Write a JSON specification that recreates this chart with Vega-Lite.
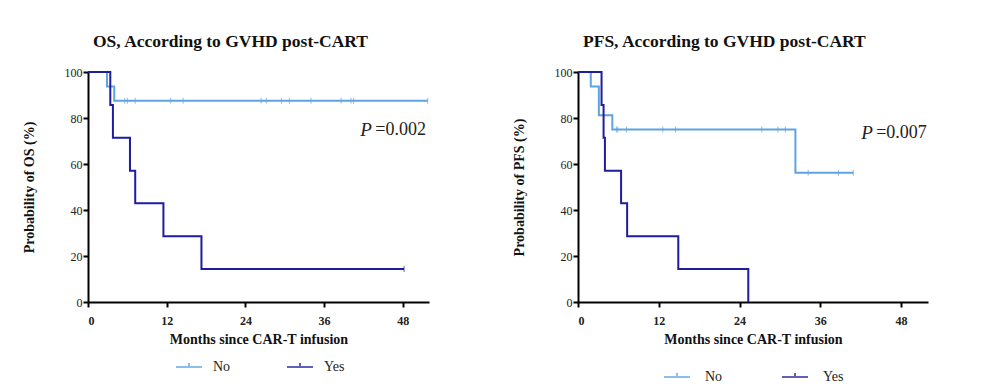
{
  "$schema": "https://vega.github.io/schema/vega-lite/v6.json",
  "background": "white",
  "padding": {"left": 22, "top": 32, "right": 5, "bottom": 5},
  "spacing": 80,
  "config": {
    "view": {"stroke": null},
    "font": "Times New Roman, Liberation Serif, serif",
    "axis": {
      "grid": false,
      "domainColor": "black",
      "domainWidth": 2,
      "tickColor": "black",
      "tickWidth": 2,
      "tickSize": 5,
      "labelColor": "#222",
      "labelFont": "Times New Roman, Liberation Serif, serif",
      "labelFontSize": 12,
      "titleFont": "Times New Roman, Liberation Serif, serif",
      "titleFontSize": 14,
      "titleFontWeight": "bold",
      "titleColor": "#111"
    },
    "title": {"font": "Times New Roman, Liberation Serif, serif", "fontSize": 17.5, "fontWeight": "bold", "color": "#111", "anchor": "start", "frame": "group", "dx": 5, "offset": 16},
    "legend": {"labelFont": "Times New Roman, Liberation Serif, serif", "labelFontSize": 14, "labelColor": "#222"},
    "text": {"font": "Times New Roman, Liberation Serif, serif"}
  },
  "datasets": {
    "os_curve": [
      {"group": "No", "time": 0, "surv": 100},
      {"group": "No", "time": 2.9, "surv": 93.75},
      {"group": "No", "time": 4.0, "surv": 87.5},
      {"group": "No", "time": 51.8, "surv": 87.5},
      {"group": "Yes", "time": 0, "surv": 100},
      {"group": "Yes", "time": 3.4, "surv": 85.7},
      {"group": "Yes", "time": 3.8, "surv": 71.4},
      {"group": "Yes", "time": 6.4, "surv": 57.1},
      {"group": "Yes", "time": 7.2, "surv": 42.9},
      {"group": "Yes", "time": 11.5, "surv": 28.6},
      {"group": "Yes", "time": 17.3, "surv": 14.3},
      {"group": "Yes", "time": 48.2, "surv": 14.3}
    ],
    "os_censor": [
      {"group": "No", "time": 5.6, "surv": 87.5},
      {"group": "No", "time": 6.0, "surv": 87.5},
      {"group": "No", "time": 7.2, "surv": 87.5},
      {"group": "No", "time": 12.6, "surv": 87.5},
      {"group": "No", "time": 14.5, "surv": 87.5},
      {"group": "No", "time": 26.4, "surv": 87.5},
      {"group": "No", "time": 27.2, "surv": 87.5},
      {"group": "No", "time": 29.5, "surv": 87.5},
      {"group": "No", "time": 30.7, "surv": 87.5},
      {"group": "No", "time": 34.0, "surv": 87.5},
      {"group": "No", "time": 38.6, "surv": 87.5},
      {"group": "No", "time": 40.1, "surv": 87.5},
      {"group": "No", "time": 40.5, "surv": 87.5},
      {"group": "No", "time": 51.8, "surv": 87.5},
      {"group": "Yes", "time": 48.2, "surv": 14.3}
    ],
    "pfs_curve": [
      {"group": "No", "time": 0, "surv": 100},
      {"group": "No", "time": 1.9, "surv": 93.75},
      {"group": "No", "time": 3.1, "surv": 81.25},
      {"group": "No", "time": 5.1, "surv": 75},
      {"group": "No", "time": 32.3, "surv": 56.25},
      {"group": "No", "time": 40.9, "surv": 56.25},
      {"group": "Yes", "time": 0, "surv": 100},
      {"group": "Yes", "time": 3.5, "surv": 85.7},
      {"group": "Yes", "time": 3.8, "surv": 71.4},
      {"group": "Yes", "time": 4.0, "surv": 57.1},
      {"group": "Yes", "time": 6.4, "surv": 42.9},
      {"group": "Yes", "time": 7.3, "surv": 28.6},
      {"group": "Yes", "time": 14.9, "surv": 14.3},
      {"group": "Yes", "time": 25.3, "surv": 0}
    ],
    "pfs_censor": [
      {"group": "No", "time": 5.7, "surv": 75},
      {"group": "No", "time": 5.9, "surv": 75},
      {"group": "No", "time": 7.2, "surv": 75},
      {"group": "No", "time": 12.6, "surv": 75},
      {"group": "No", "time": 14.5, "surv": 75},
      {"group": "No", "time": 27.3, "surv": 75},
      {"group": "No", "time": 29.7, "surv": 75},
      {"group": "No", "time": 30.8, "surv": 75},
      {"group": "No", "time": 34.2, "surv": 56.25},
      {"group": "No", "time": 38.7, "surv": 56.25},
      {"group": "No", "time": 40.9, "surv": 56.25}
    ],
    "os_p": [{"p": "=0.002"}],
    "pfs_p": [{"p": "=0.007"}]
  },
  "resolve": {"scale": {"color": "independent"}, "legend": {"color": "independent"}},
  "hconcat": [
    {
      "title": {"text": "OS, According to GVHD post-CART"},
      "width": 341,
      "height": 230,
      "layer": [
        {
          "data": {"name": "os_curve"},
          "mark": {"type": "line", "interpolate": "step-after", "strokeWidth": 2},
          "encoding": {
            "x": {"field": "time", "type": "quantitative", "scale": {"domain": [0, 52], "nice": false},
                  "axis": {"values": [0, 12, 24, 36, 48], "title": "Months since CAR-T infusion", "labelFontWeight": "bold", "labelPadding": 8, "titlePadding": 6}},
            "y": {"field": "surv", "type": "quantitative", "scale": {"domain": [0, 100]},
                  "axis": {"values": [0, 20, 40, 60, 80, 100], "title": "Probability of OS (%)", "labelPadding": 1, "titlePadding": 28}},
            "color": {"field": "group", "type": "nominal",
                      "scale": {"domain": ["No", "Yes"], "range": ["#5ea3e2", "#1d1d9e"]},
                      "legend": {"title": null, "orient": "none", "direction": "horizontal", "legendX": 87, "legendY": 281,
                                 "symbolType": "M-1,0H1M0,0V-0.3", "symbolSize": 676, "symbolStrokeWidth": 2, "labelOffset": 10, "columnPadding": 52}}
          }
        },
        {
          "data": {"name": "os_censor"},
          "mark": {"type": "tick", "orient": "vertical", "size": 6, "thickness": 1},
          "encoding": {
            "x": {"field": "time", "type": "quantitative"},
            "y": {"field": "surv", "type": "quantitative"},
            "color": {"field": "group", "type": "nominal"}
          }
        },
        {
          "data": {"name": "os_p"},
          "mark": {"type": "text", "fontStyle": "italic", "fontSize": 19, "align": "left", "baseline": "middle", "color": "#222"},
          "encoding": {"x": {"datum": 41.5}, "y": {"datum": 75}, "text": {"value": "P"}}
        },
        {
          "data": {"name": "os_p"},
          "mark": {"type": "text", "fontSize": 18, "align": "left", "baseline": "middle", "color": "#222"},
          "encoding": {"x": {"datum": 43.8}, "y": {"datum": 75}, "text": {"field": "p"}}
        }
      ]
    },
    {
      "title": {"text": "PFS, According to GVHD post-CART"},
      "width": 350,
      "height": 230,
      "layer": [
        {
          "data": {"name": "pfs_curve"},
          "mark": {"type": "line", "interpolate": "step-after", "strokeWidth": 2},
          "encoding": {
            "x": {"field": "time", "type": "quantitative", "scale": {"domain": [0, 52], "nice": false},
                  "axis": {"values": [0, 12, 24, 36, 48], "title": "Months since CAR-T infusion", "labelFontWeight": "bold", "labelPadding": 8, "titlePadding": 6}},
            "y": {"field": "surv", "type": "quantitative", "scale": {"domain": [0, 100]},
                  "axis": {"values": [0, 20, 40, 60, 80, 100], "title": "Probability of PFS (%)", "labelPadding": 1, "titlePadding": 28}},
            "color": {"field": "group", "type": "nominal",
                      "scale": {"domain": ["No", "Yes"], "range": ["#5ea3e2", "#1d1d9e"]},
                      "legend": {"title": null, "orient": "none", "direction": "horizontal", "legendX": 85, "legendY": 291,
                                 "symbolType": "M-1,0H1M0,0V-0.3", "symbolSize": 676, "symbolStrokeWidth": 2, "labelOffset": 14, "columnPadding": 55}}
          }
        },
        {
          "data": {"name": "pfs_censor"},
          "mark": {"type": "tick", "orient": "vertical", "size": 6, "thickness": 1},
          "encoding": {
            "x": {"field": "time", "type": "quantitative"},
            "y": {"field": "surv", "type": "quantitative"},
            "color": {"field": "group", "type": "nominal"}
          }
        },
        {
          "data": {"name": "pfs_p"},
          "mark": {"type": "text", "fontStyle": "italic", "fontSize": 19, "align": "left", "baseline": "middle", "color": "#222"},
          "encoding": {"x": {"datum": 42.1}, "y": {"datum": 73.4}, "text": {"value": "P"}}
        },
        {
          "data": {"name": "pfs_p"},
          "mark": {"type": "text", "fontSize": 18, "align": "left", "baseline": "middle", "color": "#222"},
          "encoding": {"x": {"datum": 44.3}, "y": {"datum": 73.4}, "text": {"field": "p"}}
        }
      ]
    }
  ]
}
